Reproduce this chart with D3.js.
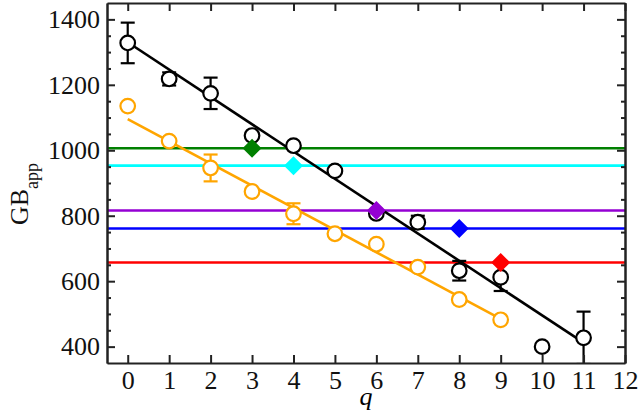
<!DOCTYPE html>
<html>
<head>
<meta charset="utf-8">
<script src="https://cdnjs.cloudflare.com/ajax/libs/d3/7.8.5/d3.min.js"></script>
<style>
  body { margin: 0; background: #fff; }
  .axis path, .axis line { stroke: #222; stroke-width: 2; }
</style>
</head>
<body>
<div id="chart-area"></div>
<script>
// black data (with error bars)
var qBlack = [0, 1, 2, 3, 4, 5, 6, 7, 8, 9, 10, 11];
var gbBlack = [1328, 1218, 1174, 1045, 1014, 937, 807, 780, 632, 612, 400, 427];
var errBlack = [62, 20, 48, 0, 0, 0, 0, 20, 30, 42, 0, 80];

// orange data
var qOrange = [0, 1, 2, 3, 4, 5, 6, 7, 8, 9];
var gbOrange = [1135, 1028, 946, 874, 806, 745, 713, 643, 544, 482];
var errOrange = [0, 0, 41, 0, 32, 0, 0, 0, 0, 0];

// fitted lines (end points)
var fitBlackQ = [0, 11], fitBlackGB = [1330, 412];
var fitOrangeQ = [0, 9], fitOrangeGB = [1095, 485];

// reference levels + diamonds
var refQ = [3, 4, 6, 8, 9];
var refGB = [1006, 953, 816, 761, 657];
var refColors = ["#008000", "#00ffff", "#9400d3", "#0000ff", "#ff0000"];

var xTicks = d3.range(0, 13);
var yTicks = [400, 600, 800, 1000, 1200, 1400];

var serif = "'Liberation Serif', 'Times New Roman', serif";

var margin = { top: 3, right: 16, bottom: 51, left: 107 },
    width = 641 - margin.left - margin.right,
    height = 414 - margin.top - margin.bottom;

var x = d3.scaleLinear().domain([-0.5, 12]).range([0, width]);
var y = d3.scaleLinear().domain([350, 1450]).range([height, 0]);

var svg = d3.select("#chart-area").append("svg")
    .attr("width", 641)
    .attr("height", 414)
    .append("g")
    .attr("transform", "translate(" + margin.left + "," + margin.top + ")");

svg.append("defs").append("clipPath").attr("id", "clip")
    .append("rect").attr("width", width).attr("height", height);

var plot = svg.append("g").attr("clip-path", "url(#clip)");

// horizontal reference lines
plot.selectAll("line.ref").data(refGB).enter().append("line")
    .attr("class", "ref")
    .attr("x1", x(-0.5)).attr("x2", x(12))
    .attr("y1", function(d){ return y(d); })
    .attr("y2", function(d){ return y(d); })
    .attr("stroke", function(d, i){ return refColors[i]; })
    .attr("stroke-width", 2.6);

var line = d3.line().x(function(d){ return x(d[0]); }).y(function(d){ return y(d[1]); });

plot.append("path")
    .datum(d3.zip(fitBlackQ, fitBlackGB))
    .attr("d", line).attr("fill", "none")
    .attr("stroke", "#000").attr("stroke-width", 2.6);

plot.append("path")
    .datum(d3.zip(fitOrangeQ, fitOrangeGB))
    .attr("d", line).attr("fill", "none")
    .attr("stroke", "#ffa500").attr("stroke-width", 2.6);

function drawSeries(qs, vals, errs, color) {
    var data = qs.map(function(q, i){ return { q: q, v: vals[i], e: errs[i] }; });
    var eb = plot.append("g").selectAll("g").data(data.filter(function(d){ return d.e > 0; }))
        .enter().append("g")
        .attr("stroke", color).attr("stroke-width", 2.2);
    eb.append("line")
        .attr("x1", function(d){ return x(d.q); }).attr("x2", function(d){ return x(d.q); })
        .attr("y1", function(d){ return y(d.v - d.e); }).attr("y2", function(d){ return y(d.v + d.e); });
    eb.append("line")
        .attr("x1", function(d){ return x(d.q) - 7; }).attr("x2", function(d){ return x(d.q) + 7; })
        .attr("y1", function(d){ return y(d.v + d.e); }).attr("y2", function(d){ return y(d.v + d.e); });
    eb.append("line")
        .attr("x1", function(d){ return x(d.q) - 7; }).attr("x2", function(d){ return x(d.q) + 7; })
        .attr("y1", function(d){ return y(d.v - d.e); }).attr("y2", function(d){ return y(d.v - d.e); });

    plot.append("g").selectAll("circle").data(data).enter().append("circle")
        .attr("cx", function(d){ return x(d.q); })
        .attr("cy", function(d){ return y(d.v); })
        .attr("r", 7.3)
        .attr("fill", "#fff")
        .attr("stroke", color)
        .attr("stroke-width", 2.2);
}

drawSeries(qBlack, gbBlack, errBlack, "#000");
drawSeries(qOrange, gbOrange, errOrange, "#ffa500");

// diamonds
plot.selectAll("path.dia").data(refQ).enter().append("path")
    .attr("class", "dia")
    .attr("d", "M0,-9.5L9.5,0L0,9.5L-9.5,0Z")
    .attr("transform", function(d, i){ return "translate(" + x(d) + "," + y(refGB[i]) + ")"; })
    .attr("fill", function(d, i){ return refColors[i]; });

// axes, ticks pointing inward on all four sides
var minorY = d3.range(350, 1451, 50).filter(function(v){ return v % 200 !== 0 && v > 350 && v < 1450; });

svg.append("g").attr("class", "x axis")
    .attr("transform", "translate(0," + height + ")")
    .call(d3.axisBottom(x).tickValues(xTicks).tickSizeInner(-8).tickSizeOuter(0).tickPadding(8).tickFormat(d3.format("d")));
svg.append("g").attr("class", "x axis")
    .call(d3.axisTop(x).tickValues(xTicks).tickSizeInner(-8).tickSizeOuter(0).tickFormat(""));

svg.append("g").attr("class", "y axis")
    .call(d3.axisLeft(y).tickValues(yTicks).tickSizeInner(-8).tickSizeOuter(0).tickPadding(7).tickFormat(d3.format("d")));
svg.append("g").attr("class", "y axis")
    .call(d3.axisLeft(y).tickValues(minorY).tickSizeInner(-4).tickSizeOuter(0).tickFormat(""));
svg.append("g").attr("class", "y axis")
    .attr("transform", "translate(" + width + ",0)")
    .call(d3.axisRight(y).tickValues(yTicks).tickSizeInner(-8).tickSizeOuter(0).tickFormat(""));
svg.append("g").attr("class", "y axis")
    .attr("transform", "translate(" + width + ",0)")
    .call(d3.axisRight(y).tickValues(minorY).tickSizeInner(-4).tickSizeOuter(0).tickFormat(""));

svg.selectAll(".axis text")
    .style("font-family", serif)
    .style("font-size", "26px")
    .style("fill", "#111");

// axis titles
svg.append("text")
    .attr("x", x(5.75))
    .attr("y", 405 - margin.top)
    .attr("text-anchor", "middle")
    .style("font-family", serif)
    .style("font-size", "26px")
    .style("font-style", "italic")
    .text("q");

var yl = svg.append("text")
    .attr("transform", "translate(" + (28 - margin.left) + "," + (194 - margin.top) + ") rotate(-90)")
    .attr("text-anchor", "middle")
    .style("font-family", serif)
    .style("font-size", "26px")
    .style("fill", "#111");
yl.append("tspan").text("GB");
yl.append("tspan").attr("dy", 10).style("font-size", "18px").text("app");
</script>
</body>
</html>
